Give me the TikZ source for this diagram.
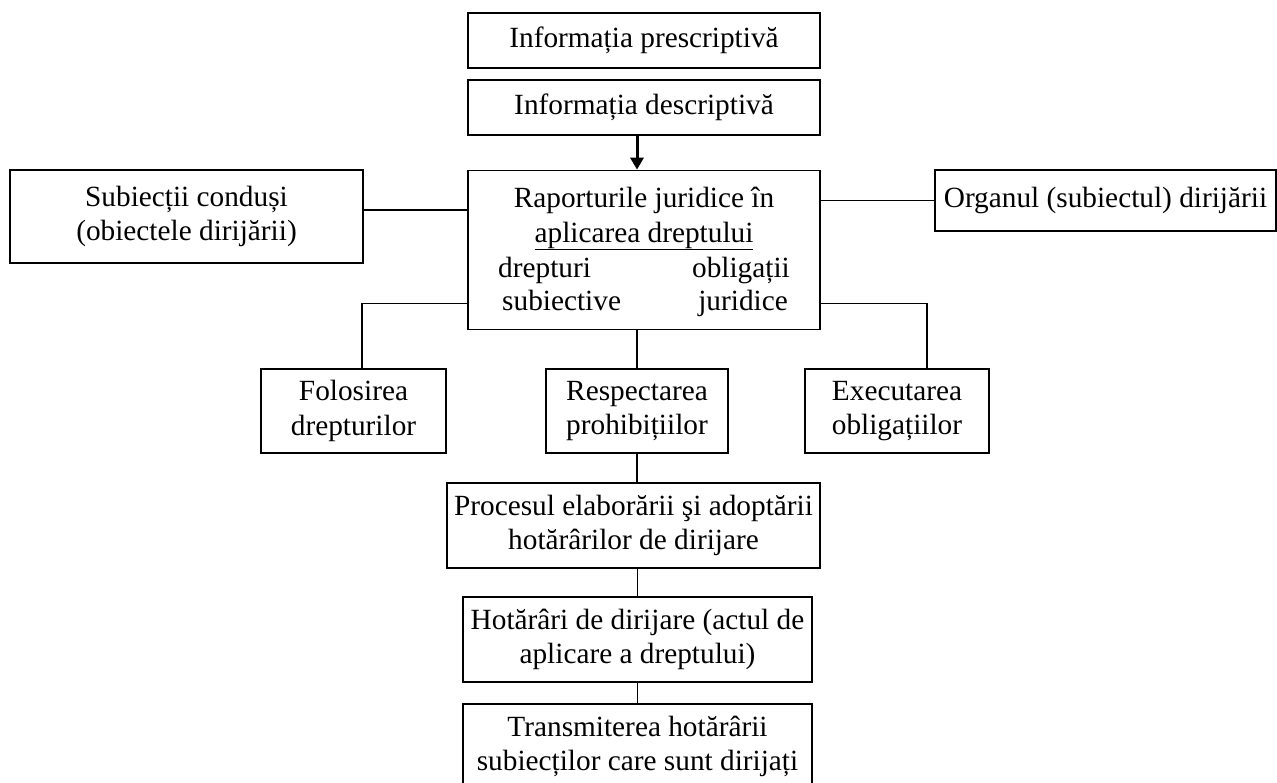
\documentclass[tikz,border=0pt]{standalone}
\usepackage{fontspec}
\setmainfont{Liberation Serif}
\usetikzlibrary{arrows.meta}
\tikzset{
  x=1pt, y=-1pt,
  txt/.style={font=\fontsize{29.3}{34.5}\selectfont, inner sep=0pt},
  box/.style={draw, line width=1.7pt, inner sep=0pt, align=center, txt},
  conn/.style={line width=1.7pt},
  arr/.style={line width=3pt, -{Triangle[width=13pt,length=12pt]}}
}
\begin{document}
\begin{tikzpicture}
\fill[white] (0,0) rectangle (1277,782);
\useasboundingbox (0,0) rectangle (1277,782);
\clip (0,0) rectangle (1277,782);
% boxes
\node[box, minimum width=352pt, minimum height=55pt] (pres) at (644,40.5) {Informația prescriptivă};
\node[box, minimum width=352pt, minimum height=55pt] (desc) at (644,107.5) {Informația descriptivă};
\node[box, minimum width=352pt, minimum height=159pt] (central) at (644,250) {};
\node[box, minimum width=353pt, minimum height=93pt] (subj) at (186.5,216.5) {Subiecții conduși\\(obiectele dirijării)};
\node[box, minimum width=341pt, minimum height=61pt] (organ) at (1105.5,200.5) {Organul (subiectul) dirijării};
\node[box, minimum width=185pt, minimum height=84pt] (folos) at (353.5,411) {Folosirea\\drepturilor};
\node[box, minimum width=182pt, minimum height=84pt] (resp) at (637,411) {Respectarea\\prohibițiilor};
\node[box, minimum width=184pt, minimum height=84pt] (exec) at (897,411) {Executarea\\obligațiilor};
\node[box, minimum width=373pt, minimum height=85pt] (proc) at (633.5,525.5) {Procesul elaborării şi adoptării\\hotărârilor de dirijare};
\node[box, minimum width=349pt, minimum height=85pt] (hot) at (637.5,639.5) {Hotărâri de dirijare (actul de\\aplicare a dreptului)};
\node[box, minimum width=349pt, minimum height=85pt] (trans) at (637.5,746.5) {Transmiterea hotărârii\\subiecților care sunt dirijați};
% central box text
\node[txt, anchor=base] (c1) at (644,207) {Raporturile juridice în};
\node[txt, anchor=base] (c2) at (644,242) {\underline{aplicarea dreptului}};
\node[txt, anchor=base west] (c3) at (498,277) {drepturi};
\node[txt, anchor=base east] (c4) at (790,277) {obligații};
\node[txt, anchor=base west] (c5) at (502,310) {subiective};
\node[txt, anchor=base east] (c6) at (788,310) {juridice};
% connectors
\draw[arr] ([xshift=-7pt]desc.south) -- ([xshift=-7pt]central.north);
\draw[conn] ([yshift=6.5pt]subj.east) -- ([yshift=6.5pt]subj.east -| central.west);
\draw[conn] (central.east |- organ.west) -- (organ.west);
\draw[conn] ([yshift=27pt]central.south west) -| ([xshift=8.5pt]folos.north);
\draw[conn] ([yshift=27pt]central.south east) -| ([xshift=30pt]exec.north);
\draw[conn] (resp.north |- central.south) -- (resp.north);
\draw[conn] (resp.south) -- (resp.south |- proc.north);
\draw[conn] (hot.north |- proc.south) -- (hot.north);
\draw[conn] (hot.south) -- (trans.north);
\end{tikzpicture}
\end{document}
